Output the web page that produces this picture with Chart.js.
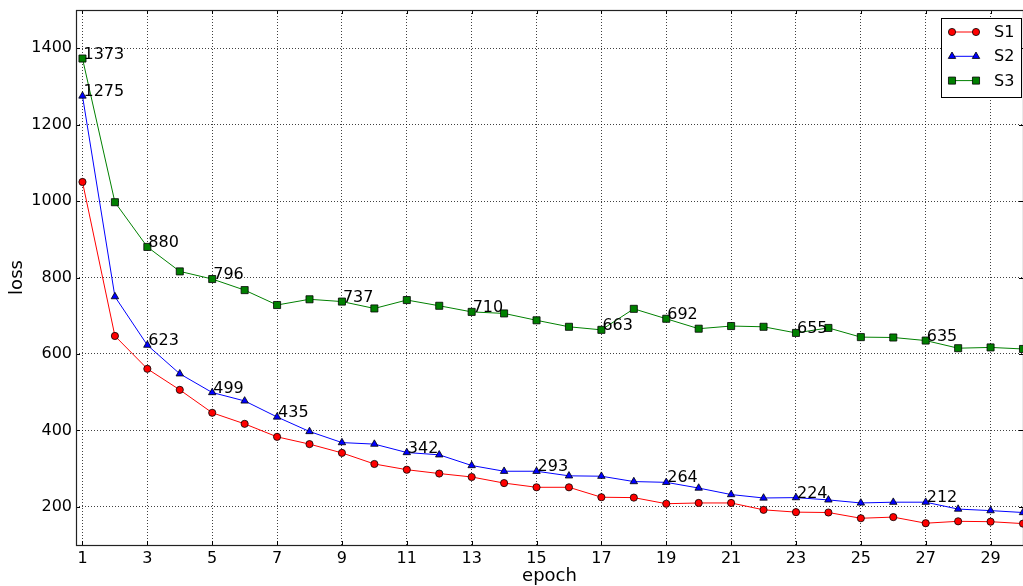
<!DOCTYPE html>
<html>
<head>
<meta charset="utf-8">
<script src="https://cdn.jsdelivr.net/npm/chart.js@4.4.0/dist/chart.umd.min.js"></script>
<style>
  html, body { margin: 0; padding: 0; background: #fff; }
  #wrap { width: 1023px; height: 586px; }
</style>
</head>
<body>
<div id="wrap"><canvas id="lossChart" width="1023" height="586"></canvas></div>
<script>
// data
var epochs = [1, 2, 3, 4, 5, 6, 7, 8, 9, 10, 11, 12, 13, 14, 15,
              16, 17, 18, 19, 20, 21, 22, 23, 24, 25, 26, 27, 28, 29, 30];
var s1Loss = [1050, 647, 561, 506, 446, 417, 383, 364, 341, 312, 297, 287, 278, 262, 251,
              251, 225, 224, 208, 210, 210, 192, 186, 185, 170, 173, 157, 162, 161, 156];
var s2Loss = [1275, 750, 623, 548, 499, 477, 435, 397, 368, 364, 342, 336, 308, 293, 293,
              281, 280, 266, 264, 249, 232, 223, 224, 218, 210, 212, 212, 194, 190, 185];
var s3Loss = [1373, 997, 880, 816, 796, 767, 728, 743, 737, 719, 741, 726, 710, 706, 688,
              671, 663, 718, 692, 666, 673, 671, 655, 668, 644, 643, 635, 615, 617, 613];
// which points carry a value label
var s2LabelIdx = [0, 2, 4, 6, 10, 14, 18, 22, 26];
var s3LabelIdx = [0, 2, 4, 8, 12, 16, 18, 22, 26];
var xTicks = [1, 3, 5, 7, 9, 11, 13, 15, 17, 19, 21, 23, 25, 27, 29];
var yTicks = [200, 400, 600, 800, 1000, 1200, 1400];

var FONT = 'DejaVu Sans';

function toPoints(ys) {
    return epochs.map(function(x, i) { return { x: x, y: ys[i] }; });
}

function series(label, ys, color, style, radius, labelIdx) {
    return {
        label: label,
        data: toPoints(ys),
        borderColor: color,
        borderWidth: 1,
        backgroundColor: color,
        pointStyle: style,
        pointRadius: radius,
        pointHoverRadius: radius,
        pointBackgroundColor: color,
        pointBorderColor: '#000',
        pointBorderWidth: 0.8,
        tension: 0,
        clip: 0,
        labelIdx: labelIdx
    };
}

// no automatic label padding, the plot box is fixed
function noPad(scale) {
    scale.paddingTop = 0;
    scale.paddingBottom = 0;
    scale.paddingLeft = 0;
    scale.paddingRight = 0;
}

// frame around the plot + inward tick marks
var framePlugin = {
    id: 'frame',
    afterDatasetsDraw: function(chart) {
        var ctx = chart.ctx, a = chart.chartArea;
        var xs = chart.scales.x, ys = chart.scales.y;
        ctx.save();
        ctx.strokeStyle = '#000';
        ctx.lineWidth = 1;
        xTicks.forEach(function(t) {
            var px = Math.round(xs.getPixelForValue(t)) + 0.5;
            ctx.beginPath();
            ctx.moveTo(px, a.bottom); ctx.lineTo(px, a.bottom - 4);
            ctx.moveTo(px, a.top); ctx.lineTo(px, a.top + 4);
            ctx.stroke();
        });
        yTicks.forEach(function(t) {
            var py = Math.round(ys.getPixelForValue(t)) + 0.5;
            ctx.beginPath();
            ctx.moveTo(a.left, py); ctx.lineTo(a.left + 4, py);
            ctx.moveTo(a.right, py); ctx.lineTo(a.right - 4, py);
            ctx.stroke();
        });
        ctx.strokeStyle = '#222';
        ctx.lineWidth = 1.2;
        ctx.strokeRect(a.left + 0.5, a.top + 0.5, a.right - a.left, a.bottom - a.top);
        ctx.restore();
    }
};

// value labels next to selected points
var valueLabels = {
    id: 'valueLabels',
    afterDatasetsDraw: function(chart) {
        var ctx = chart.ctx;
        ctx.save();
        ctx.font = '16px "' + FONT + '"';
        ctx.fillStyle = '#000';
        ctx.textAlign = 'left';
        ctx.textBaseline = 'alphabetic';
        chart.data.datasets.forEach(function(ds) {
            (ds.labelIdx || []).forEach(function(i) {
                var p = ds.data[i];
                var px = chart.scales.x.getPixelForValue(p.x);
                var py = chart.scales.y.getPixelForValue(p.y);
                ctx.fillText(String(p.y), px + 1, py);
            });
        });
        ctx.restore();
    }
};

// matplotlib-style legend box in the upper right
var boxLegend = {
    id: 'boxLegend',
    afterDraw: function(chart) {
        var ctx = chart.ctx;
        var bx = 941, by = 18, bw = 80, bh = 79;
        ctx.save();
        ctx.fillStyle = '#fff';
        ctx.fillRect(bx, by, bw, bh);
        ctx.strokeStyle = '#000';
        ctx.lineWidth = 1;
        ctx.strokeRect(bx + 0.5, by + 0.5, bw, bh);
        ctx.font = '16px "' + FONT + '"';
        ctx.textBaseline = 'middle';
        chart.data.datasets.forEach(function(ds, i) {
            var y = 32 + i * 24.3;
            ctx.strokeStyle = ds.borderColor;
            ctx.lineWidth = 1;
            ctx.beginPath();
            ctx.moveTo(952, y); ctx.lineTo(976, y);
            ctx.stroke();
            [952, 976].forEach(function(mx) {
                ctx.fillStyle = ds.pointBackgroundColor;
                ctx.strokeStyle = '#000';
                ctx.lineWidth = 0.8;
                Chart.helpers.drawPoint(ctx, {
                    pointStyle: ds.pointStyle, radius: ds.pointRadius,
                    rotation: 0, borderWidth: 0.8
                }, mx, y);
            });
            ctx.fillStyle = '#000';
            ctx.fillText(ds.label, 994, y + 1);
        });
        ctx.restore();
    }
};

var gridStyle = {
    color: 'rgba(0,0,0,0.75)',
    lineWidth: 1,
    drawTicks: false
};

var ctx = document.getElementById('lossChart').getContext('2d');
var lossChart = new Chart(ctx, {
    type: 'line',
    data: {
        datasets: [
            series('S1', s1Loss, '#ff0000', 'circle', 3.6, []),
            series('S2', s2Loss, '#0000ff', 'triangle', 4.3, s2LabelIdx),
            series('S3', s3Loss, '#008000', 'rect', 5, s3LabelIdx)
        ]
    },
    options: {
        responsive: false,
        animation: false,
        devicePixelRatio: 1,
        layout: { autoPadding: false, padding: { top: 10, right: 0, left: 0, bottom: 0 } },
        plugins: {
            legend: { display: false },
            tooltip: { enabled: false }
        },
        scales: {
            x: {
                type: 'linear',
                min: 0.8,
                max: 30,
                afterBuildTicks: function(scale) {
                    scale.ticks = xTicks.map(function(v) { return { value: v }; });
                },
                afterFit: function(scale) { scale.height = 41; noPad(scale); },
                grid: gridStyle,
                border: { display: false, dash: [1, 2] },
                ticks: {
                    color: '#000',
                    padding: 4,
                    maxRotation: 0,
                    font: { family: FONT, size: 16 },
                    callback: function(v) { return String(v); }
                },
                title: {
                    display: true,
                    text: 'epoch',
                    color: '#000',
                    padding: { top: 0, bottom: 0 },
                    font: { family: FONT, size: 18, lineHeight: 1.1 }
                }
            },
            y: {
                type: 'linear',
                min: 100,
                max: 1500,
                afterBuildTicks: function(scale) {
                    scale.ticks = yTicks.map(function(v) { return { value: v }; });
                },
                afterFit: function(scale) { scale.width = 76; noPad(scale); },
                grid: gridStyle,
                border: { display: false, dash: [1, 2] },
                ticks: {
                    color: '#000',
                    padding: 4,
                    font: { family: FONT, size: 16 },
                    callback: function(v) { return String(v); }
                },
                title: {
                    display: true,
                    text: 'loss',
                    color: '#000',
                    padding: { top: 7, bottom: 0 },
                    font: { family: FONT, size: 18, lineHeight: 1.2 }
                }
            }
        }
    },
    plugins: [framePlugin, valueLabels, boxLegend]
});
</script>
</body>
</html>
